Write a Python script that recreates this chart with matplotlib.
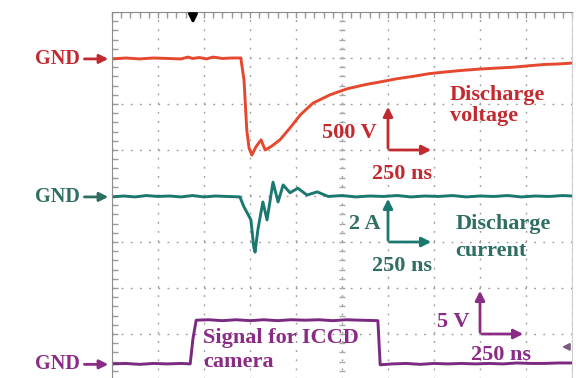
import numpy as np
import matplotlib.pyplot as plt

# ---- trace data (screen divisions: 10 x 8)
red_x = [0, 0.3, 0.6, 0.9, 1.2, 1.5, 1.65, 1.75, 1.9, 2.05, 2.2, 2.4, 2.6, 2.8,
         2.87, 2.93, 2.98, 3.04, 3.13, 3.24, 3.33, 3.48, 3.65, 3.87, 4.09, 4.37,
         4.74, 5.11, 5.5, 5.83, 6.2, 6.54, 6.9, 7.28, 7.6, 8.0, 8.35, 8.72, 9.05,
         9.41, 9.7, 10.0]
red_y = [6.98, 7.0, 6.98, 7.0, 6.99, 6.98, 7.02, 6.99, 7.01, 6.98, 7.02, 6.99, 7.0, 7.0,
         6.52, 5.43, 5.04, 4.89, 5.07, 5.22, 5.0, 5.09, 5.22, 5.48, 5.76, 6.02,
         6.2, 6.33, 6.42, 6.48, 6.55, 6.6, 6.66, 6.7, 6.73, 6.76, 6.78, 6.8, 6.83,
         6.86, 6.87, 6.89]

teal_x = [0, 0.25, 0.5, 0.75, 1.0, 1.25, 1.5, 1.75, 2.0, 2.25, 2.5, 2.78,
          2.87, 2.93, 3.02, 3.08, 3.11, 3.17, 3.22, 3.28, 3.37, 3.50, 3.61, 3.72,
          3.87, 4.04, 4.24, 4.46, 4.7, 5.0, 5.3, 5.6, 5.9, 6.2, 6.5, 6.8, 7.1,
          7.4, 7.7, 8.0, 8.3, 8.6, 8.9, 9.2, 9.5, 9.8, 10.0]
teal_y = [3.98, 4.0, 3.98, 4.01, 3.99, 4.0, 3.98, 4.01, 3.98, 4.0, 3.99, 3.98,
          3.76, 3.65, 3.48, 2.9, 2.78, 3.26, 3.54, 3.87, 3.48, 4.30, 3.87, 4.24,
          4.07, 4.17, 4.02, 4.09, 3.99, 4.01, 3.98, 4.0, 3.99, 4.01, 3.98, 4.0, 3.99,
          4.01, 3.98, 4.0, 3.99, 4.01, 3.98, 4.0, 3.99, 4.01, 4.0]

purple_x = [0, 0.3, 0.6, 0.9, 1.2, 1.5, 1.70, 1.76, 1.83, 2.1, 2.4, 2.7, 3.0,
            3.3, 3.6, 3.9, 4.2, 4.5, 4.8, 5.1, 5.4, 5.78, 5.83, 6.1, 6.4, 6.7,
            7.0, 7.3, 7.6, 7.9, 8.2, 8.5, 8.8, 9.1, 9.4, 9.7, 10.0]
purple_y = [0.35, 0.36, 0.34, 0.36, 0.35, 0.36, 0.35, 0.9, 1.30, 1.31, 1.29, 1.31, 1.29,
            1.31, 1.29, 1.31, 1.30, 1.31, 1.29, 1.31, 1.30, 1.29, 0.33, 0.35, 0.36, 0.34,
            0.36, 0.35, 0.36, 0.35, 0.36, 0.35, 0.37, 0.36, 0.36, 0.37, 0.37]

red_line, red_txt = '#e5482e', '#c22a30'
teal_line, teal_txt = '#1b7870', '#2f6e62'
purp_line, purp_txt = '#7a2a80', '#8a2c86'
font = dict(family='Liberation Serif', weight='bold')

fig = plt.figure(figsize=(5.76, 3.78), dpi=100)
ax = fig.add_axes([112/576, -2/378, 460/576, 368/378])
ax.set_xlim(0, 10)
ax.set_ylim(0, 8)

# graticule
ax.set_xticks(range(11))
ax.set_yticks(range(9))
ax.set_xticklabels([])
ax.set_yticklabels([])
ax.grid(True, color='#9c9c9c', lw=1, linestyle=(0, (1.3, 5.3)))
ax.tick_params(which='both', length=0)
for s in ['top', 'left']:
    ax.spines[s].set_color('#8c8c8c')
for s in ['right', 'bottom']:
    ax.spines[s].set_color('#cfcfcf')
mt = np.arange(0, 10.01, 0.2)
ax.plot(mt, np.full(mt.size, 7.93), '|', color='#9a9a9a', ms=4, clip_on=False)
mv = np.arange(0, 8.01, 0.2)
ax.plot(np.full(mv.size, 0.07), mv, '_', color='#9a9a9a', ms=4)
ax.plot(np.full(mv.size, 5.0), mv, '_', color='#a8a8a8', ms=4)

# traces
ax.plot(red_x, red_y, color=red_line, lw=2.1)
ax.plot(teal_x, teal_y, color=teal_line, lw=2.1)
ax.plot(purple_x, purple_y, color=purp_line, lw=2.1)

# GND markers
for y, c in [(6.98, red_txt), (3.98, teal_txt), (0.34, purp_txt)]:
    ax.text(-0.70, y, 'GND', ha='right', va='center', color=c, fontsize=14.5,
            clip_on=False, **font)
    ax.annotate('', xy=(-0.02, y), xytext=(-0.66, y),
                arrowprops=dict(arrowstyle='-|>', color=c, lw=2, mutation_scale=13),
                annotation_clip=False)

# scale arrows
def scale(x0, y0, c):
    ax.annotate('', xy=(x0, y0 + 1.0), xytext=(x0, y0 - 0.02),
                arrowprops=dict(arrowstyle='-|>', color=c, lw=2, mutation_scale=14))
    ax.annotate('', xy=(x0 + 1.0, y0), xytext=(x0 - 0.02, y0),
                arrowprops=dict(arrowstyle='-|>', color=c, lw=2, mutation_scale=14))

scale(6.0, 5.0, red_txt)
scale(6.0, 3.0, teal_line)
scale(8.0, 1.0, purp_txt)

fs = 16
ax.text(5.76, 5.26, '500 V', ha='right', va='baseline', color=red_txt, fontsize=fs, **font)
ax.text(6.31, 4.37, '250 ns', ha='center', va='baseline', color=red_txt, fontsize=fs, **font)
ax.text(7.35, 6.09, 'Discharge', ha='left', va='baseline', color=red_txt, fontsize=fs, **font)
ax.text(7.35, 5.63, 'voltage', ha='left', va='baseline', color=red_txt, fontsize=fs, **font)

ax.text(5.83, 3.28, '2 A', ha='right', va='baseline', color=teal_txt, fontsize=fs, **font)
ax.text(6.30, 2.37, '250 ns', ha='center', va='baseline', color=teal_txt, fontsize=fs, **font)
ax.text(7.46, 3.28, 'Discharge', ha='left', va='baseline', color=teal_txt, fontsize=fs, **font)
ax.text(7.46, 2.70, 'current', ha='left', va='baseline', color=teal_txt, fontsize=fs, **font)

ax.text(7.78, 1.15, '5 V', ha='right', va='baseline', color=purp_txt, fontsize=fs, **font)
ax.text(8.46, 0.43, '250 ns', ha='center', va='baseline', color=purp_txt, fontsize=fs, **font)
ax.text(1.98, 0.80, 'Signal for ICCD', ha='left', va='baseline', color=purp_txt, fontsize=fs, **font)
ax.text(1.98, 0.28, 'camera', ha='left', va='baseline', color=purp_txt, fontsize=fs, **font)

# trigger markers
ax.annotate('', xy=(1.76, 7.68), xytext=(1.76, 7.95),
            arrowprops=dict(arrowstyle='-|>', color='k', lw=2, mutation_scale=13),
            annotation_clip=False)
ax.annotate('', xy=(9.72, 0.72), xytext=(9.98, 0.72),
            arrowprops=dict(arrowstyle='-|>', color='#7a5a80', lw=1.5, mutation_scale=10),
            annotation_clip=False)

plt.savefig('out.png', dpi=100)
